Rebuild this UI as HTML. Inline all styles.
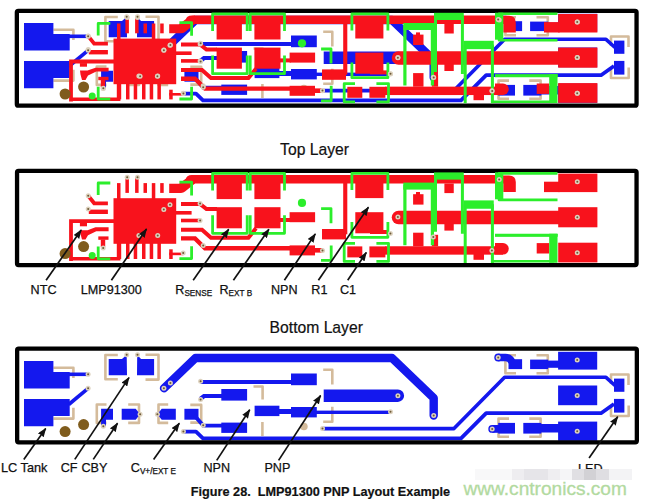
<!DOCTYPE html>
<html><head><meta charset="utf-8">
<style>
html,body{margin:0;padding:0;background:#fff;width:647px;height:504px;overflow:hidden}
svg{display:block}
text{font-family:"Liberation Sans",sans-serif}
</style></head>
<body>
<svg width="647" height="504" viewBox="0 0 647 504">
<defs>
<!-- ================= BOTTOM LAYER (panel-3 coords) ================= -->
<g id="bot" fill="#1418ee">
  <!-- LC tank pads -->
  <path d="M24 361H53.4V372H69.7V388.6H24Z"/>
  <path d="M24 399H69.7V416H53.4V426.3H24Z"/>
  <rect x="69" y="372.5" width="19.5" height="3.6"/>
  <path d="M68.7 404.5L88.1 388.3" stroke="#1418ee" stroke-width="3.6" fill="none"/>
  <!-- CF pads -->
  <path d="M108.7 359.1H122L126.7 354.7L127 375.3H108.7Z"/>
  <path d="M137.2 354.7L141 359.1H154.1V375.3H137Z"/>
  <!-- CBY pads -->
  <path d="M101.1 408.8H113V419.7H106V426H101.1Z"/>
  <path d="M121.7 408.8H135.7L140.1 414.2L135.7 419.7H121.7Z"/>
  <!-- CV pads -->
  <path d="M157.4 414.2L161.7 408.8H175.8V419.7H161.7Z"/>
  <rect x="184.4" y="408.8" width="14.1" height="10.9"/>
  <path d="M194 415L203.2 425.6H222" stroke="#1418ee" stroke-width="3.9" fill="none"/>
  <!-- big diagonal trace -->
  <path d="M164 388.2L195.5 358H392L433.7 398V415.5" stroke="#1418ee" stroke-width="8.4" fill="none" stroke-linecap="round" stroke-linejoin="round"/>
  <!-- trace to pad at right -->
  <rect x="200.6" y="380" width="92" height="4"/>
  <rect x="291" y="373.5" width="25.8" height="11.7"/>
  <!-- NPN pads -->
  <rect x="221.3" y="389" width="25.8" height="11.6"/>
  <path d="M200.3 399L204 396H222" stroke="#1418ee" stroke-width="4.2" fill="none"/>
  <rect x="221.3" y="422.6" width="25.8" height="10.3"/>
  <!-- PNP pads -->
  <rect x="254.6" y="405.7" width="24.8" height="10.4"/>
  <rect x="279" y="409" width="13" height="5"/>
  <rect x="291" y="407" width="25.8" height="10.4"/>
  <rect x="316" y="410.6" width="75" height="3.4"/>
  <!-- pad-trace right -->
  <path d="M323.7 389.5H397.9A6.2 6.2 0 0 1 397.9 401.9H323.7Z"/>
  <!-- long traces -->
  <path d="M322.5 428.6H454L504.6 377.3H606L615 385.5" stroke="#1418ee" stroke-width="3.6" fill="none" stroke-linejoin="round"/>
  <path d="M183.4 431.6H196L203 438.4H461L486.2 413.2H601L614 404" stroke="#1418ee" stroke-width="3.8" fill="none" stroke-linejoin="round"/>
  <!-- right big pads -->
  <rect x="558.1" y="351.8" width="39.1" height="17.8"/>
  <rect x="558.1" y="385.5" width="39.1" height="19.7"/>
  <rect x="558.1" y="421.6" width="39.1" height="19.2"/>
  <!-- top right component -->
  <circle cx="498.2" cy="357.5" r="3.9"/>
  <path d="M498.2 357.5H505.5Q510 357.5 512 362" stroke="#1418ee" stroke-width="7.4" fill="none"/>
  <rect x="508.5" y="359.2" width="13.6" height="9.9"/>
  <rect x="530.1" y="359.6" width="18" height="9.5"/>
  <rect x="548" y="360.6" width="12" height="7.2"/>
  <!-- bottom right component -->
  <circle cx="492.2" cy="428.9" r="3.9"/>
  <rect x="492.2" y="425" width="7" height="7.8"/>
  <rect x="498.2" y="422.9" width="16.8" height="10.7"/>
  <rect x="523.3" y="422.9" width="18" height="10.7"/>
  <rect x="541" y="424" width="18" height="8.5"/>
  <!-- LED pads -->
  <rect x="614" y="378.6" width="10.4" height="13.2"/>
  <rect x="614" y="398.9" width="10.4" height="13.7"/>
</g>
<g id="botvias" fill="#8a8a70">
  <circle cx="88.1" cy="374.2" r="2.5" fill="#ddd2bf"/><circle cx="88.1" cy="374.2" r="1" fill="#6e5a36"/><circle cx="88.1" cy="388.3" r="2.5" fill="#ddd2bf"/><circle cx="88.1" cy="388.3" r="1" fill="#6e5a36"/>
  <circle cx="126.7" cy="354.7" r="2.5" fill="#ddd2bf"/><circle cx="126.7" cy="354.7" r="1" fill="#6e5a36"/><circle cx="137.5" cy="354.7" r="2.5" fill="#ddd2bf"/><circle cx="137.5" cy="354.7" r="1" fill="#6e5a36"/>
  <circle cx="103.3" cy="426.2" r="2.5" fill="#ddd2bf"/><circle cx="103.3" cy="426.2" r="1" fill="#6e5a36"/><circle cx="140.1" cy="414.2" r="2.5" fill="#ddd2bf"/><circle cx="140.1" cy="414.2" r="1" fill="#6e5a36"/>
  <circle cx="157.4" cy="414.2" r="2.5" fill="#ddd2bf"/><circle cx="157.4" cy="414.2" r="1" fill="#6e5a36"/><circle cx="203.2" cy="425.2" r="2.5" fill="#ddd2bf"/><circle cx="203.2" cy="425.2" r="1" fill="#6e5a36"/>
  <circle cx="163.9" cy="388.3" r="2.5" fill="#ddd2bf"/><circle cx="163.9" cy="388.3" r="1" fill="#6e5a36"/><circle cx="170.4" cy="382.9" r="2.5" fill="#ddd2bf"/><circle cx="170.4" cy="382.9" r="1" fill="#6e5a36"/>
  <circle cx="200.6" cy="381.3" r="2.5" fill="#ddd2bf"/><circle cx="200.6" cy="381.3" r="1" fill="#6e5a36"/><circle cx="200.6" cy="399.4" r="2.5" fill="#ddd2bf"/><circle cx="200.6" cy="399.4" r="1" fill="#6e5a36"/>
  <circle cx="183.4" cy="431.6" r="2.5" fill="#ddd2bf"/><circle cx="183.4" cy="431.6" r="1" fill="#6e5a36"/><circle cx="322.5" cy="428.6" r="2.5" fill="#ddd2bf"/><circle cx="322.5" cy="428.6" r="1" fill="#6e5a36"/>
  <circle cx="397.9" cy="395.7" r="2.5" fill="#ddd2bf"/><circle cx="397.9" cy="395.7" r="1" fill="#6e5a36"/><circle cx="390.5" cy="411.8" r="2.5" fill="#ddd2bf"/><circle cx="390.5" cy="411.8" r="1" fill="#6e5a36"/>
  <circle cx="433.7" cy="415.5" r="2.5" fill="#ddd2bf"/><circle cx="433.7" cy="415.5" r="1" fill="#6e5a36"/>
  <circle cx="498.2" cy="357.5" r="2.5" fill="#ddd2bf"/><circle cx="498.2" cy="357.5" r="1" fill="#6e5a36"/><circle cx="492.2" cy="428.9" r="2.5" fill="#ddd2bf"/><circle cx="492.2" cy="428.9" r="1" fill="#6e5a36"/>
  <circle cx="577.2" cy="360" r="2.5" fill="#ddd2bf"/><circle cx="577.2" cy="360" r="1" fill="#6e5a36"/><circle cx="577.2" cy="395.6" r="2.5" fill="#ddd2bf"/><circle cx="577.2" cy="395.6" r="1" fill="#6e5a36"/><circle cx="577.2" cy="431.2" r="2.5" fill="#ddd2bf"/><circle cx="577.2" cy="431.2" r="1" fill="#6e5a36"/>
</g>
<!-- bottom silkscreen (tan) -->
<g id="botsilk" fill="none" stroke="#d4bb9b" stroke-width="2.6" stroke-linejoin="round">
  <path d="M53.4 367.7H73.4V378"/>
  <path d="M73.4 407.8V418.6H53.4"/>
  <path d="M117.8 355H105.4V379.2H117.8"/>
  <path d="M145.5 354.7H158.5V379.6H145.5"/>
  <path d="M106.5 404.5H96.8V422.9H106.5"/>
  <path d="M128.2 404.5H139V422.9H128.2"/>
  <path d="M168.2 404.5H158.5V422.9H168.2"/>
  <path d="M253.5 386.5H262.6V399.4"/>
  <path d="M262.4 422V436"/>
  <path d="M190.3 404.9H201.2V422.6H190.3"/>
  <path d="M323.2 369.7H332.3V384.6"/>
  <path d="M332.3 406.8V421.7H323.2"/>
  <path d="M516 355.2H505.4V373.3H516"/>
  <path d="M536.5 355.2H547.8V373.3H536.5"/>
  <path d="M509 418.6H498.5V436.7H509"/>
  <path d="M529.3 418.6H540.6V436.7H529.3"/>
  <path d="M611 384V374.5H628.5V385"/>
  <path d="M611 405.5V416H628.7V405.5"/>
  <circle cx="303.9" cy="426.5" r="3.8" fill="#d4bb9b" stroke="none"/>
</g>
<!-- ================= TOP LAYER (panel-2 coords) ================= -->
<g id="top" fill="#f8121c">
  <!-- NTC outline -->
  <path d="M71 261V221.1H116" stroke="#f8121c" stroke-width="3.8" fill="none"/>
  <path d="M71 258.8H118.6V243" stroke="#f8121c" stroke-width="3.6" fill="none"/>
  <rect x="79.9" y="222.7" width="7.1" height="3.6"/>
  <path d="M80 230.2H87.5L95.5 227.3H108.6V231.2H96.3L88 235.2L85.5 239.6H82L80.5 234Z"/>
  <rect x="98.3" y="236.4" width="10.2" height="3.4"/>
  <rect x="100.8" y="239.5" width="4.4" height="7.5"/>
  <!-- left pins -->
  <path d="M88.2 195.7L94.2 203.3H107.9" stroke="#f8121c" stroke-width="3.8" fill="none"/>
  <rect x="88.8" y="209.6" width="19.1" height="4.4"/>
  <!-- IC body -->
  <rect x="113.5" y="198.2" width="62.7" height="45.6"/>
  <!-- top pins -->
  <rect x="117" y="183.1" width="3.5" height="16"/>
  <rect x="125.4" y="176.9" width="3.5" height="16"/>
  <rect x="135.1" y="176.9" width="3.5" height="16"/>
  <rect x="143.5" y="183.1" width="3.5" height="9.8"/>
  <rect x="151.8" y="183.1" width="3.5" height="16"/>
  <rect x="160.2" y="183.1" width="3.5" height="9.8"/>
  <!-- bottom pins -->
  <rect x="117.7" y="243" width="3.5" height="16"/>
  <rect x="126" y="243" width="3.5" height="16"/>
  <rect x="133.7" y="243" width="3.5" height="16"/>
  <rect x="142" y="243" width="3.5" height="16"/>
  <rect x="149.7" y="243" width="3.5" height="16"/>
  <rect x="157.4" y="243" width="3.5" height="16"/>
  <rect x="169.2" y="249.3" width="3.5" height="9.7"/>
  <rect x="169.2" y="252.6" width="14" height="2.6"/>
  <!-- right pins + traces -->
  <path d="M181 204H200L206.5 209.1H217" stroke="#f8121c" stroke-width="4" fill="none"/>
  <rect x="176" y="211" width="15.6" height="3.6"/>
  <rect x="181" y="218.7" width="19" height="3.6"/>
  <path d="M181 229.7H202L211 237.7H248.4L256 228.3" stroke="#f8121c" stroke-width="4" fill="none"/>
  <path d="M181 238.4H195L205 248.2H292" stroke="#f8121c" stroke-width="4.4" fill="none"/>
  <rect x="289.6" y="245.4" width="25.4" height="10"/><rect x="314" y="248" width="9" height="4.6"/>
  <!-- funnel + top bar -->
  <path d="M169.2 183.8H179L188 177Q191 175 195 175V183.6L185 191.5Q183.5 192.9 181 192.9H169.2Z"/>
  <path d="M186 179.5Q186 175 192 175H495V183.5H186Z"/>
  <!-- R_SENSE / R_EXT pads -->
  <rect x="216.6" y="176" width="25.3" height="23.1"/>
  <rect x="216.6" y="207.2" width="25.3" height="21.1"/>
  <rect x="254.4" y="176" width="26.1" height="23.1"/>
  <rect x="254.4" y="207.2" width="26.1" height="21.1"/>
  <!-- NPN pads -->
  <rect x="280" y="218" width="11" height="4"/>
  <rect x="289.6" y="212.2" width="25.5" height="10"/>
  <rect x="322" y="229" width="24" height="10.4"/>
  <rect x="343.2" y="183" width="4.1" height="51.3"/>
  <!-- R1 -->
  <rect x="355.3" y="177" width="28.1" height="21.1"/>
  <rect x="355.3" y="212.2" width="28.1" height="21.1"/>
  <rect x="370" y="230" width="18" height="4"/>
  <!-- C1 -->
  <rect x="347.3" y="246.4" width="15" height="11"/>
  <rect x="369.4" y="246.4" width="16" height="11"/>
  <rect x="385" y="246.25" width="118" height="8.4"/>
  <path d="M495 243.1H503A5.7 5.7 0 0 1 503 254.6H495Z"/>
  <!-- middle bar -->
  <path d="M398.5 210.8H560V224.3H398.5A6.75 6.75 0 0 1 398.5 210.8Z"/>
  <!-- pads between -->
  <rect x="413.1" y="194.2" width="10.4" height="10.4"/>
  <rect x="416" y="192" width="4" height="3"/>
  <rect x="413.1" y="232.7" width="10.4" height="13.6"/>
  <rect x="431.9" y="234.8" width="6.2" height="11.5"/>
  <rect x="444.4" y="183.5" width="9.35" height="9.6"/>
  <rect x="444.4" y="223" width="9.35" height="7.6"/>
  <rect x="473.5" y="254" width="10.5" height="5.8"/>
  <path d="M495 175.4H509Q515.8 175.4 515.8 182V192.1H503.3V183.5H495Z"/>
  <rect x="544" y="181.7" width="15.6" height="10.4"/>
  <rect x="536.7" y="243.1" width="12.5" height="10.4"/>
  <!-- right pads -->
  <rect x="558.2" y="173.6" width="39.2" height="18.5"/>
  <rect x="558.2" y="207.2" width="39.2" height="20.1"/>
  <rect x="558.2" y="242.7" width="39.2" height="19.7"/>
</g>
<g id="topvias" fill="#8a8a70">
  <circle cx="88.2" cy="195.7" r="2.5" fill="#ddd2bf"/><circle cx="88.2" cy="195.7" r="1" fill="#6e5a36"/><circle cx="88.2" cy="209" r="2.5" fill="#ddd2bf"/><circle cx="88.2" cy="209" r="1" fill="#6e5a36"/>
  <circle cx="127.2" cy="177.2" r="2.5" fill="#ddd2bf"/><circle cx="127.2" cy="177.2" r="1" fill="#6e5a36"/><circle cx="137.5" cy="177.2" r="2.5" fill="#ddd2bf"/><circle cx="137.5" cy="177.2" r="1" fill="#6e5a36"/>
  <circle cx="170" cy="204.8" r="2.5" fill="#ddd2bf"/><circle cx="170" cy="204.8" r="1" fill="#6e5a36"/><circle cx="163.8" cy="209.5" r="2.5" fill="#ddd2bf"/><circle cx="163.8" cy="209.5" r="1" fill="#6e5a36"/>
  <circle cx="138.9" cy="235.5" r="2.5" fill="#ddd2bf"/><circle cx="138.9" cy="235.5" r="1" fill="#6e5a36"/><circle cx="157.7" cy="235.5" r="2.5" fill="#ddd2bf"/><circle cx="157.7" cy="235.5" r="1" fill="#6e5a36"/>
  <circle cx="200.1" cy="203.5" r="2.5" fill="#ddd2bf"/><circle cx="200.1" cy="203.5" r="1" fill="#6e5a36"/><circle cx="200.1" cy="220.5" r="2.5" fill="#ddd2bf"/><circle cx="200.1" cy="220.5" r="1" fill="#6e5a36"/>
  <circle cx="203.2" cy="245.4" r="2.5" fill="#ddd2bf"/><circle cx="203.2" cy="245.4" r="1" fill="#6e5a36"/><circle cx="183.2" cy="252.9" r="2.5" fill="#ddd2bf"/><circle cx="183.2" cy="252.9" r="1" fill="#6e5a36"/>
  <circle cx="103.2" cy="248" r="2.5" fill="#ddd2bf"/><circle cx="103.2" cy="248" r="1" fill="#6e5a36"/>
  <circle cx="322.5" cy="250.4" r="2.5" fill="#ddd2bf"/><circle cx="322.5" cy="250.4" r="1" fill="#6e5a36"/><circle cx="390.4" cy="233.5" r="2.5" fill="#ddd2bf"/><circle cx="390.4" cy="233.5" r="1" fill="#6e5a36"/>
  <circle cx="397.9" cy="217.1" r="2.5" fill="#ddd2bf"/><circle cx="397.9" cy="217.1" r="1" fill="#6e5a36"/><circle cx="433.3" cy="236.9" r="2.5" fill="#ddd2bf"/><circle cx="433.3" cy="236.9" r="1" fill="#6e5a36"/>
  <circle cx="491.9" cy="250.4" r="2.5" fill="#ddd2bf"/><circle cx="491.9" cy="250.4" r="1" fill="#6e5a36"/><circle cx="499.2" cy="179.6" r="2.5" fill="#ddd2bf"/><circle cx="499.2" cy="179.6" r="1" fill="#6e5a36"/>
  <circle cx="577.3" cy="181.7" r="2.5" fill="#ddd2bf"/><circle cx="577.3" cy="181.7" r="1" fill="#6e5a36"/><circle cx="577.3" cy="217.2" r="2.5" fill="#ddd2bf"/><circle cx="577.3" cy="217.2" r="1" fill="#6e5a36"/><circle cx="577.3" cy="252.8" r="2.5" fill="#ddd2bf"/><circle cx="577.3" cy="252.8" r="1" fill="#6e5a36"/>
</g>
<!-- top silkscreen (green) -->
<g id="topsilk" fill="none" stroke="#2bee2b" stroke-width="2.8" stroke-linejoin="round">
  <path d="M110.3 183H98.2V195"/>
  <path d="M98.2 246.4V258.8H110.3"/>
  <path d="M179.4 182.2H191.6V195.4"/>
  <path d="M191.6 246.3V258.6H179.4"/>
  <path d="M212.6 190.5V173.4H247.2V190.5"/>
  <path d="M250.2 190.5V173.4H284.5V190.5"/>
  <path d="M212.6 215.2V233.3H247.2V215.2"/>
  <path d="M250.2 215.2V233.3H284.5V215.2"/>
  <path d="M321.1 208.6H331V223.2"/>
  <path d="M331.2 245.4V260.4H321"/>
  <path d="M351.9 190V173.4H387.9V190"/>
  <path d="M351.9 222V237.3H387.9V222"/>
  <path d="M355 243.3H344.2V261.4H355"/>
  <path d="M376.4 243.3H388.5V261.4H376.4"/>
  <path d="M404.9 245.2V185.6H432.4V245.2" stroke-width="3.2"/>
  <path d="M435.5 231.7V176H462.4V233.7" stroke-width="3"/>
  <path d="M465.2 262.9V205H492.4V262.9" stroke-width="3"/>
  <path d="M557.5 173.4H499V199.9H557.5" stroke-width="2.6"/>
  <path d="M557.5 235.3H553.3V261.3H492" stroke-width="2.6"/>
</g>
<g id="topsilkfill" fill="#2bee2b">
  <rect x="403.3" y="182.6" width="30.7" height="7"/>
  <rect x="434" y="172.4" width="29.75" height="7.2"/>
  <rect x="463.75" y="200.4" width="30" height="8.35"/>
  <rect x="495" y="172.3" width="8.3" height="27"/>
  <rect x="549.2" y="233.75" width="8.3" height="29"/>
  <rect x="495" y="233.75" width="62.5" height="3.1"/>
  <circle cx="92.2" cy="255.6" r="3.5"/>
  <circle cx="302" cy="202.9" r="4.1"/>
</g>
<g id="holes" fill="#7f5c1d">
  <circle cx="65.1" cy="253.6" r="5.5"/>
  <circle cx="83.6" cy="246.6" r="5.5"/>
</g>
<marker id="ah" viewBox="0 0 9.5 7" refX="8.6" refY="3.5" markerWidth="9.5" markerHeight="7" markerUnits="userSpaceOnUse" orient="auto">
  <path d="M0 0L9.5 3.5L0 7L0.8 3.5Z" fill="#111"/>
</marker>
</defs>

<!-- ================= PANEL 1 (combined) ================= -->
<rect x="16.85" y="10.85" width="619.7" height="94.8" fill="none" stroke="#000" stroke-width="4.3" rx="1.5"/>
<g transform="translate(0,-338)"><use href="#botsilk"/><use href="#bot"/></g>
<rect x="433.2" y="64" width="4.7" height="12" fill="#f8121c"/>
<g transform="translate(0,-159.6)"><use href="#top"/><use href="#topsilk"/><use href="#topsilkfill"/><use href="#topvias"/><use href="#holes"/></g>
<g transform="translate(0,-338)"><use href="#botvias"/></g>

<text x="280.1" y="154.6" font-size="15.7" fill="#111" stroke="#111" stroke-width="0.2">Top Layer</text>

<!-- ================= PANEL 2 (top) ================= -->
<rect x="17.05" y="170.85" width="619.5" height="94.2" fill="none" stroke="#000" stroke-width="4.3" rx="1.5"/>
<use href="#top"/><use href="#topsilk"/><use href="#topsilkfill"/><use href="#topvias"/><use href="#holes"/>

<g stroke="#111" stroke-width="1.7" fill="none" marker-end="url(#ah)">
  <path d="M46.1 280.3L81.2 230"/>
  <path d="M111.4 280.3L146.5 229"/>
  <path d="M193.2 280.3L228.7 229.3"/>
  <path d="M233.4 280.3L268.9 229.3"/>
  <path d="M284.4 280.3L315.3 233.9"/>
  <path d="M318.4 280.3L368.4 207.2"/>
  <path d="M347.7 280.3L366.3 252.5"/>
</g>
<g font-size="12.6" fill="#111" stroke="#111" stroke-width="0.25">
  <text x="30.6" y="294.3">NTC</text>
  <text x="80.8" y="294.3">LMP91300</text>
  <text x="175.3" y="294.3">R<tspan font-size="8.2" dy="1.5">SENSE</tspan></text>
  <text x="219.5" y="294.3">R<tspan font-size="8.2" dy="1.5">EXT B</tspan></text>
  <text x="271" y="294.3">NPN</text>
  <text x="311.3" y="294.3">R1</text>
  <text x="340" y="294.3">C1</text>
</g>

<text x="269.6" y="332.6" font-size="15.7" fill="#111" stroke="#111" stroke-width="0.2">Bottom Layer</text>

<!-- ================= PANEL 3 (bottom) ================= -->
<use href="#botsilk"/><use href="#bot"/><use href="#botvias"/>
<g transform="translate(0,178)"><use href="#holes"/></g>
<rect x="17.15" y="348.65" width="619.7" height="93.7" fill="none" stroke="#000" stroke-width="4.3" rx="1.5"/>

<g stroke="#111" stroke-width="1.7" fill="none" marker-end="url(#ah)">
  <path d="M23.8 459.4L45.7 428.4"/>
  <path d="M74.8 459.4L129.0 377.6"/>
  <path d="M93.3 459.4L117.5 423.2"/>
  <path d="M153.6 459.4L179.3 423.2"/>
  <path d="M216.7 460.4L249.7 409.7"/>
  <path d="M278.6 460.4L320.6 395.5"/>
  <path d="M589.1 458.1L617.7 416.7"/>
</g>
<g font-size="12.6" fill="#111" stroke="#111" stroke-width="0.25">
  <text x="1" y="472.3" textLength="46.5" lengthAdjust="spacingAndGlyphs">LC Tank</text>
  <text x="60.7" y="472.3">CF</text>
  <text x="81.5" y="472.3">CBY</text>
  <text x="130.8" y="472.3">C<tspan font-size="8.2" dy="1.5">V+/EXT E</tspan></text>
  <text x="203.5" y="472.3">NPN</text>
  <text x="264.4" y="472.3">PNP</text>
  <text x="578" y="473">LED</text>
</g>
<text x="190.8" y="495.6" font-size="12.7" font-weight="bold" fill="#111" stroke="#111" stroke-width="0.2" xml:space="preserve">Figure 28.  LMP91300 PNP Layout Example</text>
<g>
<rect x="475" y="469" width="37" height="11" fill="#f8f8f9"/>
<rect x="512" y="469" width="12" height="11" fill="#eeedf0"/>
<rect x="524" y="469" width="24" height="11" fill="#e6e5e9"/>
<rect x="548" y="469" width="12" height="11" fill="#efeef1"/>
<rect x="560" y="469" width="12" height="11" fill="#f5f5f7"/>
<rect x="572" y="469" width="12" height="11" fill="#e0dfe3"/>
<rect x="584" y="469" width="12" height="11" fill="#d2d1d5"/>
<rect x="596" y="469" width="13" height="11" fill="#dfdee2"/>
<rect x="609" y="469" width="23" height="11" fill="#f3f3f5"/>
</g>
<text x="463.5" y="494.6" font-size="19.1" fill="#b2daa0" stroke="#b2daa0" stroke-width="0.3">www.cntronics.com</text>
</svg>
</body></html>
